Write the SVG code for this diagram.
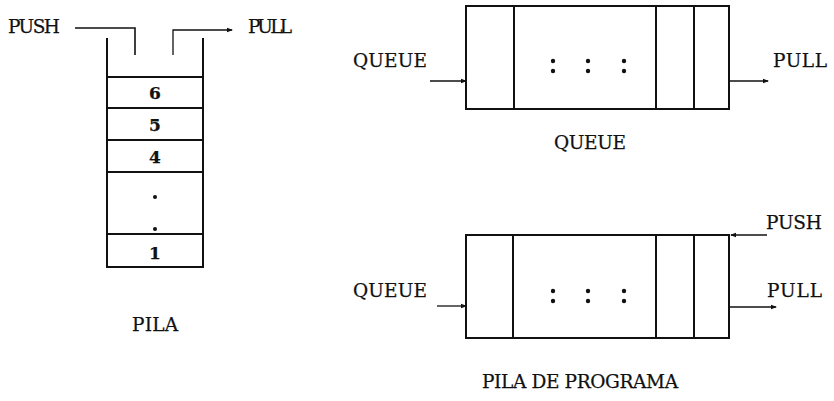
<svg xmlns="http://www.w3.org/2000/svg" width="834" height="401" viewBox="0 0 834 401">
<style>
text{font-family:"DejaVu Serif","Liberation Serif",serif;fill:#111;stroke:#111;stroke-width:0.25;}
.lbl{font-size:18.5px;}
.num{font-size:17px;font-weight:bold;text-anchor:middle;}
.box{fill:none;stroke:#111;stroke-width:2;}
.ln{fill:none;stroke:#111;stroke-width:1.6;}
.arr{fill:none;stroke:#111;stroke-width:1.3;marker-end:url(#ah);}
</style>
<defs>
<marker id="ah" markerWidth="6" markerHeight="6" refX="5" refY="3" orient="auto" markerUnits="userSpaceOnUse">
<path d="M0,0.8 L6,3 L0,5.2 z" fill="#111"/>
</marker>
</defs>
<rect width="834" height="401" fill="#fff"/>

<g id="stack">
<path class="box" d="M107,38 V267 H203 V38"/>
<line class="box" x1="107" y1="77" x2="203" y2="77"/>
<line class="box" x1="107" y1="108" x2="203" y2="108"/>
<line class="box" x1="107" y1="140" x2="203" y2="140"/>
<line class="box" x1="107" y1="172" x2="203" y2="172"/>
<line class="box" x1="107" y1="234" x2="203" y2="234"/>
<text class="num" x="155" y="99">6</text>
<text class="num" x="155" y="131">5</text>
<text class="num" x="155" y="163">4</text>
<circle cx="155" cy="197" r="2" fill="#111"/>
<circle cx="155" cy="229" r="2" fill="#111"/>
<text class="num" x="155" y="259">1</text>
<text class="lbl" x="155" y="331" text-anchor="middle" textLength="46">PILA</text>
</g>

<g id="stack-labels">
<text class="lbl" x="8" y="33" textLength="52">PUSH</text>
<text class="lbl" x="248" y="33" textLength="44">PULL</text>
</g>

<g id="queue">
<rect class="box" x="466" y="6" width="263" height="103"/>
<line class="box" x1="514" y1="6" x2="514" y2="109"/>
<line class="box" x1="656" y1="6" x2="656" y2="109"/>
<line class="box" x1="694" y1="6" x2="694" y2="109"/>
<g fill="#111">
<circle cx="553" cy="61" r="2.2"/><circle cx="553" cy="71" r="2.2"/>
<circle cx="588" cy="61" r="2.2"/><circle cx="588" cy="71" r="2.2"/>
<circle cx="624" cy="61" r="2.2"/><circle cx="624" cy="71" r="2.2"/>
</g>
<text class="lbl" x="353" y="67" textLength="74">QUEUE</text>
<text class="lbl" x="773" y="67" textLength="54">PULL</text>
<text class="lbl" x="590" y="149" text-anchor="middle" textLength="72">QUEUE</text>
</g>

<g id="pila-programa">
<rect class="box" x="466" y="235" width="263" height="103"/>
<line class="box" x1="513" y1="235" x2="513" y2="338"/>
<line class="box" x1="656" y1="235" x2="656" y2="338"/>
<line class="box" x1="694" y1="235" x2="694" y2="338"/>
<g fill="#111">
<circle cx="553" cy="291" r="2.2"/><circle cx="553" cy="301" r="2.2"/>
<circle cx="588" cy="291" r="2.2"/><circle cx="588" cy="301" r="2.2"/>
<circle cx="624" cy="291" r="2.2"/><circle cx="624" cy="301" r="2.2"/>
</g>
<text class="lbl" x="353" y="297" textLength="74">QUEUE</text>
<text class="lbl" x="767" y="297" textLength="55">PULL</text>
<text class="lbl" x="766" y="229" textLength="56">PUSH</text>
<text class="lbl" x="580" y="388" text-anchor="middle" textLength="196">PILA DE PROGRAMA</text>
</g>

<g id="connectors">
<path class="ln" d="M75,28 H135 V55"/>
<path class="arr" d="M173,55 V30 H232"/>
<line class="arr" x1="430" y1="81" x2="466" y2="81"/>
<line class="arr" x1="729" y1="81" x2="768" y2="81"/>
<line class="arr" x1="437" y1="306" x2="466" y2="306"/>
<line class="arr" x1="729" y1="307" x2="776" y2="307"/>
<line class="arr" x1="767" y1="235" x2="731" y2="235"/>
</g>
</svg>
